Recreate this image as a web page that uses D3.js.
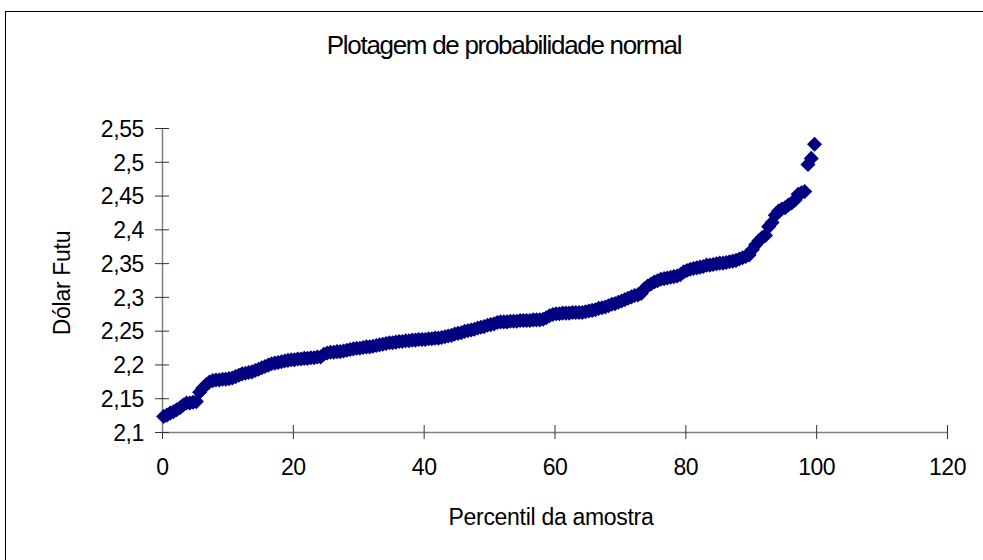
<!DOCTYPE html>
<html>
<head>
<meta charset="utf-8">
<script src="https://cdn.jsdelivr.net/npm/d3@7"></script>
<style>
  body { margin: 0; background: #fff; }
  svg { display: block; font-family: "Liberation Sans", Arial, sans-serif; }
</style>
</head>
<body>
<div id="chart"></div>
<script>
// percentil da amostra (x) e valores ordenados (y)
const percentil = [
  0.25, 0.75, 1.25, 1.75, 2.25, 2.75, 3.25, 3.75, 4.25, 4.75,
  5.25, 5.75, 6.25, 6.75, 7.25, 7.75, 8.25, 8.75, 9.25, 9.75,
  10.25, 10.75, 11.25, 11.75, 12.25, 12.75, 13.25, 13.75, 14.25, 14.75,
  15.25, 15.75, 16.25, 16.75, 17.25, 17.75, 18.25, 18.75, 19.25, 19.75,
  20.25, 20.75, 21.25, 21.75, 22.25, 22.75, 23.25, 23.75, 24.25, 24.75,
  25.25, 25.75, 26.25, 26.75, 27.25, 27.75, 28.25, 28.75, 29.25, 29.75,
  30.25, 30.75, 31.25, 31.75, 32.25, 32.75, 33.25, 33.75, 34.25, 34.75,
  35.25, 35.75, 36.25, 36.75, 37.25, 37.75, 38.25, 38.75, 39.25, 39.75,
  40.25, 40.75, 41.25, 41.75, 42.25, 42.75, 43.25, 43.75, 44.25, 44.75,
  45.25, 45.75, 46.25, 46.75, 47.25, 47.75, 48.25, 48.75, 49.25, 49.75,
  50.25, 50.75, 51.25, 51.75, 52.25, 52.75, 53.25, 53.75, 54.25, 54.75,
  55.25, 55.75, 56.25, 56.75, 57.25, 57.75, 58.25, 58.75, 59.25, 59.75,
  60.25, 60.75, 61.25, 61.75, 62.25, 62.75, 63.25, 63.75, 64.25, 64.75,
  65.25, 65.75, 66.25, 66.75, 67.25, 67.75, 68.25, 68.75, 69.25, 69.75,
  70.25, 70.75, 71.25, 71.75, 72.25, 72.75, 73.25, 73.75, 74.25, 74.75,
  75.25, 75.75, 76.25, 76.75, 77.25, 77.75, 78.25, 78.75, 79.25, 79.75,
  80.25, 80.75, 81.25, 81.75, 82.25, 82.75, 83.25, 83.75, 84.25, 84.75,
  85.25, 85.75, 86.25, 86.75, 87.25, 87.75, 88.25, 88.75, 89.25, 89.75,
  90.25, 90.75, 91.25, 91.75, 92.25, 92.75, 93.25, 93.75, 94.25, 94.75,
  95.25, 95.75, 96.25, 96.75, 97.25, 97.75, 98.25, 98.75, 99.25, 99.75
]
const dolarFutu = [
  2.123, 2.125, 2.128, 2.130, 2.133, 2.136, 2.140, 2.143, 2.143, 2.144,
  2.145, 2.159, 2.165, 2.170, 2.174, 2.176, 2.177, 2.177, 2.178, 2.178,
  2.179, 2.180, 2.182, 2.184, 2.186, 2.187, 2.188, 2.189, 2.191, 2.193,
  2.195, 2.197, 2.199, 2.201, 2.202, 2.203, 2.204, 2.205, 2.206, 2.207,
  2.207, 2.208, 2.208, 2.209, 2.209, 2.210, 2.210, 2.211, 2.211, 2.215,
  2.217, 2.218, 2.218, 2.219, 2.219, 2.220, 2.221, 2.222, 2.223, 2.224,
  2.224, 2.225, 2.226, 2.226, 2.227, 2.228, 2.229, 2.230, 2.231, 2.232,
  2.232, 2.233, 2.234, 2.234, 2.235, 2.235, 2.236, 2.236, 2.237, 2.237,
  2.237, 2.238, 2.238, 2.239, 2.239, 2.240, 2.241, 2.242, 2.243, 2.245,
  2.246, 2.247, 2.249, 2.250, 2.251, 2.252, 2.254, 2.255, 2.256, 2.258,
  2.259, 2.260, 2.262, 2.263, 2.263, 2.263, 2.264, 2.264, 2.264, 2.265,
  2.265, 2.265, 2.265, 2.266, 2.266, 2.266, 2.267, 2.269, 2.272, 2.274,
  2.275, 2.275, 2.276, 2.276, 2.276, 2.277, 2.277, 2.277, 2.277, 2.278,
  2.279, 2.280, 2.281, 2.283, 2.284, 2.285, 2.287, 2.289, 2.290, 2.292,
  2.294, 2.296, 2.298, 2.300, 2.302, 2.303, 2.305, 2.312, 2.316, 2.319,
  2.322, 2.324, 2.326, 2.327, 2.328, 2.329, 2.330, 2.331, 2.333, 2.337,
  2.339, 2.341, 2.342, 2.343, 2.344, 2.345, 2.347, 2.347, 2.348, 2.349,
  2.350, 2.350, 2.351, 2.352, 2.353, 2.354, 2.356, 2.358, 2.360, 2.362,
  2.370, 2.377, 2.383, 2.388, 2.391, 2.404, 2.410, 2.421, 2.427, 2.430,
  2.432, 2.436, 2.439, 2.443, 2.452, 2.454, 2.456, 2.496, 2.505, 2.526
]
const xTicks = [0, 20, 40, 60, 80, 100, 120]
const yTicks = [2.1, 2.15, 2.2, 2.25, 2.3, 2.35, 2.4, 2.45, 2.5, 2.55]

const width = 983, height = 560

let svg = d3.select('#chart')
    .append('svg')
    .attr('width', width)
    .attr('height', height)

// moldura externa
svg.append('rect')
    .attr('x', 5.5)
    .attr('y', 11.5)
    .attr('width', 1000)
    .attr('height', 1000)
    .attr('fill', 'none')
    .attr('stroke', '#000')

let x = d3.scaleLinear().domain([0, 120]).range([162, 947])
let y = d3.scaleLinear().domain([2.1, 2.55]).range([432, 128])

const comma = v => String(v).replace('.', ',')

// eixo x
let gx = svg.append('g')
    .attr('transform', `translate(0, ${y(2.1)})`)
    .call(d3.axisBottom(x).tickValues(xTicks).tickSize(0).tickPadding(0))
gx.select('.domain').attr('stroke', '#808080').attr('stroke-width', 1.5)
gx.selectAll('.tick line').attr('y1', -7).attr('y2', 7).attr('stroke', '#333')
gx.selectAll('.tick text')
    .attr('y', 43)
    .attr('dy', null)
    .attr('font-size', 23)
    .attr('letter-spacing', -0.5)
    .attr('font-family', '"Liberation Sans", Arial, sans-serif')
    .attr('fill', '#000')
    .text(d => d)

// eixo y
let gy = svg.append('g')
    .attr('transform', `translate(${x(0)}, 0)`)
    .call(d3.axisLeft(y).tickValues(yTicks).tickSize(0).tickPadding(0))
gy.select('.domain').attr('stroke', '#808080').attr('stroke-width', 1.5)
gy.selectAll('.tick line').attr('x1', -7).attr('x2', 7).attr('stroke', '#333')
gy.selectAll('.tick text')
    .attr('x', -18)
    .attr('dy', '0.36em')
    .attr('font-size', 23)
    .attr('letter-spacing', -0.4)
    .attr('font-family', '"Liberation Sans", Arial, sans-serif')
    .attr('fill', '#000')
    .text(d => comma(d))

// pontos (losangos)
let diamond = d3.symbol().type(d3.symbolDiamond2).size(145)
svg.append('g')
    .selectAll('path')
    .data(dolarFutu)
    .enter()
    .append('path')
    .attr('d', diamond)
    .attr('transform', (d, i) => `translate(${x(percentil[i])}, ${y(d)})`)
    .attr('fill', '#000080')

// titulos
svg.append('text')
    .attr('x', 504)
    .attr('y', 54)
    .attr('text-anchor', 'middle')
    .attr('font-size', 26)
    .attr('letter-spacing', -1.3)
    .text('Plotagem de probabilidade normal')

svg.append('text')
    .attr('x', 551)
    .attr('y', 525)
    .attr('text-anchor', 'middle')
    .attr('font-size', 23)
    .attr('letter-spacing', -0.3)
    .text('Percentil da amostra')

svg.append('text')
    .attr('transform', `translate(70, 283) rotate(-90)`)
    .attr('text-anchor', 'middle')
    .attr('font-size', 23)
    .attr('letter-spacing', -0.3)
    .text('Dólar Futu')
</script>
</body>
</html>
